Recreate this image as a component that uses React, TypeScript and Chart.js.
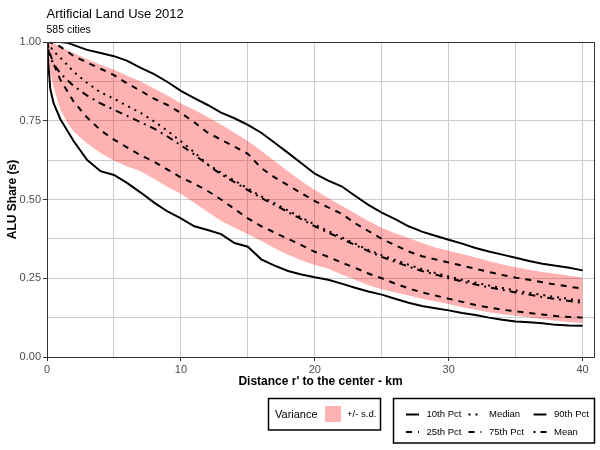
import React, { useEffect, useRef } from 'react';
import Chart from 'chart.js/auto';

// distance from the centre (km) and the share curves
const distanceKm = [0, 0.1, 0.25, 0.5, 1, 1.5, 2, 3, 4, 5, 6, 7, 8, 9, 10, 11, 12, 13, 14, 15, 16, 17, 18, 19, 20, 21, 22, 23, 24, 25, 26, 27, 28, 29, 30, 31, 32, 33, 34, 35, 36, 37, 38, 39, 40];

const pct10 = [1, 0.93, 0.85, 0.805, 0.755, 0.72, 0.685, 0.625, 0.59, 0.578, 0.552, 0.522, 0.49, 0.462, 0.44, 0.415, 0.403, 0.39, 0.362, 0.35, 0.31, 0.29, 0.273, 0.262, 0.253, 0.245, 0.233, 0.22, 0.208, 0.198, 0.185, 0.172, 0.162, 0.155, 0.148, 0.14, 0.133, 0.125, 0.118, 0.113, 0.11, 0.107, 0.102, 0.1, 0.099];
const pct25 = [1, 0.985, 0.96, 0.93, 0.88, 0.845, 0.81, 0.76, 0.72, 0.69, 0.665, 0.64, 0.62, 0.595, 0.57, 0.55, 0.527, 0.5, 0.47, 0.44, 0.415, 0.395, 0.375, 0.355, 0.334, 0.318, 0.3, 0.283, 0.265, 0.25, 0.233, 0.218, 0.205, 0.195, 0.185, 0.175, 0.165, 0.157, 0.15, 0.145, 0.14, 0.135, 0.13, 0.127, 0.125];
const median = [1, 0.993, 0.985, 0.97, 0.95, 0.928, 0.905, 0.87, 0.84, 0.82, 0.797, 0.775, 0.748, 0.718, 0.685, 0.65, 0.612, 0.585, 0.56, 0.535, 0.51, 0.488, 0.465, 0.443, 0.42, 0.4, 0.38, 0.36, 0.34, 0.323, 0.308, 0.293, 0.279, 0.267, 0.256, 0.245, 0.236, 0.227, 0.219, 0.211, 0.204, 0.197, 0.19, 0.184, 0.178];
const mean = [1, 0.975, 0.95, 0.93, 0.9, 0.88, 0.86, 0.83, 0.805, 0.785, 0.765, 0.745, 0.725, 0.7, 0.672, 0.643, 0.61, 0.58, 0.555, 0.53, 0.505, 0.483, 0.46, 0.438, 0.415, 0.395, 0.375, 0.356, 0.336, 0.318, 0.302, 0.287, 0.273, 0.262, 0.25, 0.24, 0.23, 0.221, 0.213, 0.205, 0.198, 0.19, 0.184, 0.178, 0.172];
const pct75 = [1, 1, 0.998, 0.995, 0.985, 0.97, 0.955, 0.935, 0.915, 0.895, 0.868, 0.845, 0.82, 0.8, 0.775, 0.745, 0.712, 0.69, 0.668, 0.645, 0.6, 0.57, 0.545, 0.52, 0.495, 0.475, 0.455, 0.425, 0.4, 0.375, 0.355, 0.335, 0.32, 0.31, 0.3, 0.29, 0.28, 0.27, 0.26, 0.252, 0.245, 0.237, 0.23, 0.223, 0.217];
const pct90 = [1, 1, 1, 1, 1, 0.998, 0.99, 0.975, 0.965, 0.955, 0.94, 0.918, 0.898, 0.873, 0.845, 0.822, 0.8, 0.776, 0.758, 0.737, 0.712, 0.68, 0.648, 0.615, 0.582, 0.56, 0.542, 0.512, 0.483, 0.458, 0.438, 0.415, 0.398, 0.385, 0.372, 0.36, 0.346, 0.335, 0.325, 0.315, 0.305, 0.296, 0.29, 0.283, 0.275];

// mean +/- s.d. ribbon
const sdUpper = [1, 1, 0.998, 0.995, 0.985, 0.975, 0.965, 0.945, 0.928, 0.912, 0.893, 0.875, 0.852, 0.83, 0.805, 0.785, 0.762, 0.738, 0.712, 0.686, 0.655, 0.622, 0.59, 0.558, 0.53, 0.505, 0.48, 0.456, 0.432, 0.41, 0.393, 0.378, 0.362, 0.348, 0.337, 0.327, 0.316, 0.305, 0.294, 0.285, 0.277, 0.27, 0.264, 0.258, 0.252];
const sdLower = [1, 0.94, 0.9, 0.855, 0.785, 0.745, 0.715, 0.678, 0.648, 0.623, 0.605, 0.59, 0.565, 0.54, 0.518, 0.49, 0.46, 0.432, 0.41, 0.39, 0.368, 0.345, 0.325, 0.307, 0.292, 0.28, 0.262, 0.245, 0.228, 0.215, 0.205, 0.195, 0.185, 0.177, 0.168, 0.158, 0.15, 0.142, 0.136, 0.131, 0.126, 0.12, 0.115, 0.111, 0.107];

const xGridTicks = [0, 5, 10, 15, 20, 25, 30, 35, 40];
const yGridTicks = [0, 0.125, 0.25, 0.375, 0.5, 0.625, 0.75, 0.875, 1];

const FONT = "'Liberation Sans', Arial, sans-serif";
const BAND = 'rgba(255, 0, 0, 0.3)';
const DASHED = [6, 6];
const DOTTED = [2, 5];
const DOTDASH = [2, 5, 7, 5];

const lines = [
  { label: '10th Pct', values: pct10, dash: [] as number[] },
  { label: '25th Pct', values: pct25, dash: DASHED },
  { label: 'Median', values: median, dash: DOTTED },
  { label: 'Mean', values: mean, dash: DOTDASH },
  { label: '75th Pct', values: pct75, dash: DASHED },
  { label: '90th Pct', values: pct90, dash: [] as number[] },
];

// order of the keys in the bottom-right legend box
const legendItems = [
  { label: '10th Pct', col: 0, row: 0 },
  { label: 'Median', col: 1, row: 0 },
  { label: '90th Pct', col: 2, row: 0 },
  { label: '25th Pct', col: 0, row: 1 },
  { label: '75th Pct', col: 1, row: 1 },
  { label: 'Mean', col: 2, row: 1 },
];

const toPoints = (ys: number[]) => distanceKm.map((x, i) => ({ x, y: ys[i] }));

const decorations = {
  id: 'decorations',
  beforeDraw(chart: any) {
    const { ctx, width, height } = chart;
    ctx.save();
    ctx.fillStyle = '#ffffff';
    ctx.fillRect(0, 0, width, height);
    ctx.restore();
  },
  afterDatasetsDraw(chart: any) {
    const { ctx, chartArea } = chart;
    ctx.save();
    ctx.strokeStyle = '#333333';
    ctx.lineWidth = 1;
    ctx.strokeRect(
      Math.round(chartArea.left) + 0.5,
      Math.round(chartArea.top) + 0.5,
      Math.round(chartArea.right - chartArea.left),
      Math.round(chartArea.bottom - chartArea.top)
    );
    ctx.restore();
  },
  afterDraw(chart: any) {
    const { ctx } = chart;
    ctx.save();

    // title + subtitle
    ctx.fillStyle = '#000000';
    ctx.textAlign = 'left';
    ctx.textBaseline = 'alphabetic';
    ctx.font = `13px ${FONT}`;
    ctx.fillText('Artificial Land Use 2012', 46.5, 17.5);
    ctx.font = `10.5px ${FONT}`;
    ctx.fillText('585 cities', 46.5, 33.3);

    // variance legend
    ctx.lineWidth = 1.5;
    ctx.strokeStyle = '#000000';
    ctx.strokeRect(268.5, 398.5, 112, 31.5);
    ctx.textBaseline = 'middle';
    ctx.font = `11px ${FONT}`;
    ctx.fillText('Variance', 275, 414.5);
    ctx.fillStyle = BAND;
    ctx.fillRect(325, 406, 16, 16);
    ctx.fillStyle = '#000000';
    ctx.font = `9.5px ${FONT}`;
    ctx.fillText('+/- s.d.', 347, 414.5);

    // line-type legend
    ctx.strokeRect(393.5, 398.5, 201, 44.5);
    const keyX = [406, 468.5, 533.5];
    const textX = [426.5, 489, 554];
    const rowY = [414.5, 432];
    legendItems.forEach(item => {
      const ds = chart.data.datasets.find((d: any) => d.label === item.label);
      const y = rowY[item.row];
      const x0 = keyX[item.col];
      ctx.save();
      ctx.strokeStyle = '#000000';
      ctx.lineWidth = 2;
      ctx.lineCap = 'butt';
      ctx.setLineDash(ds ? ds.borderDash : []);
      ctx.beginPath();
      ctx.moveTo(x0, y);
      ctx.lineTo(x0 + 13, y);
      ctx.stroke();
      ctx.restore();
      ctx.fillText(item.label, textX[item.col], y);
    });

    ctx.restore();
  },
};

export default function App() {
  const canvasRef = useRef<HTMLCanvasElement>(null);
  const chartRef = useRef<Chart>();

  useEffect(() => {
    if (!canvasRef.current) return;
    if (chartRef.current) chartRef.current.destroy();

    const tickFont = { family: FONT, size: 11 };
    const titleFont = { family: FONT, size: 12, weight: 'bold' as const };

    chartRef.current = new Chart(canvasRef.current, {
      type: 'line',
      data: {
        datasets: [
          ...lines.map(l => ({
            label: l.label,
            data: toPoints(l.values),
            borderColor: '#000000',
            borderWidth: 2,
            borderDash: l.dash,
            borderCapStyle: 'butt' as const,
            pointRadius: 0,
            tension: 0,
            fill: false,
          })),
          {
            label: 'sdUpper',
            data: toPoints(sdUpper),
            borderColor: 'rgba(0,0,0,0)',
            borderWidth: 0,
            pointRadius: 0,
            backgroundColor: BAND,
            fill: '+1',
          },
          {
            label: 'sdLower',
            data: toPoints(sdLower),
            borderColor: 'rgba(0,0,0,0)',
            borderWidth: 0,
            pointRadius: 0,
            fill: false,
          },
        ],
      },
      options: {
        responsive: false,
        animation: false,
        layout: { padding: { top: 42, right: 6, bottom: 58, left: 0 } },
        scales: {
          x: {
            type: 'linear',
            min: 0,
            max: 40.85,
            afterBuildTicks: (s: any) => {
              s.ticks = xGridTicks.map(value => ({ value }));
            },
            afterFit: (s: any) => {
              s.height = 35;
            },
            grid: {
              color: '#CCCCCC',
              lineWidth: 1,
              tickLength: 4,
              tickColor: (c: any) => (c.tick && c.tick.value % 10 === 0 ? '#333333' : 'rgba(0,0,0,0)'),
            },
            border: { display: true, color: '#333333', width: 1 },
            ticks: {
              autoSkip: false,
              maxRotation: 0,
              padding: 2,
              color: '#4D4D4D',
              font: tickFont,
              callback: (v: any) => (Number(v) % 10 === 0 ? String(v) : ''),
            },
            title: {
              display: true,
              text: "Distance r' to the center - km",
              color: '#000000',
              font: titleFont,
              padding: { top: 0, bottom: 3 },
            },
          },
          y: {
            min: 0,
            max: 1,
            afterBuildTicks: (s: any) => {
              s.ticks = yGridTicks.map(value => ({ value }));
            },
            afterFit: (s: any) => {
              s.width = 47;
            },
            grid: {
              color: '#CCCCCC',
              lineWidth: 1,
              tickLength: 4,
              tickColor: (c: any) => (c.tick && c.tick.value % 0.25 === 0 ? '#333333' : 'rgba(0,0,0,0)'),
            },
            border: { display: true, color: '#333333', width: 1 },
            ticks: {
              padding: 2,
              color: '#4D4D4D',
              font: tickFont,
              callback: (v: any) => (Number(v) % 0.25 === 0 ? Number(v).toFixed(2) : ''),
            },
            title: {
              display: true,
              text: 'ALU Share (s)',
              color: '#000000',
              font: titleFont,
              padding: { top: 5, bottom: 0 },
            },
          },
        },
        plugins: {
          legend: { display: false },
          tooltip: { enabled: false },
        },
      },
      plugins: [decorations],
    });

    return () => {
      if (chartRef.current) {
        chartRef.current.destroy();
        chartRef.current = undefined;
      }
    };
  }, []);

  return (
    <div style={{ position: 'absolute', left: 0, top: 0, width: 600, height: 450, background: '#ffffff' }}>
      <canvas ref={canvasRef} width={600} height={450} style={{ display: 'block', width: 600, height: 450 }} />
    </div>
  );
}
